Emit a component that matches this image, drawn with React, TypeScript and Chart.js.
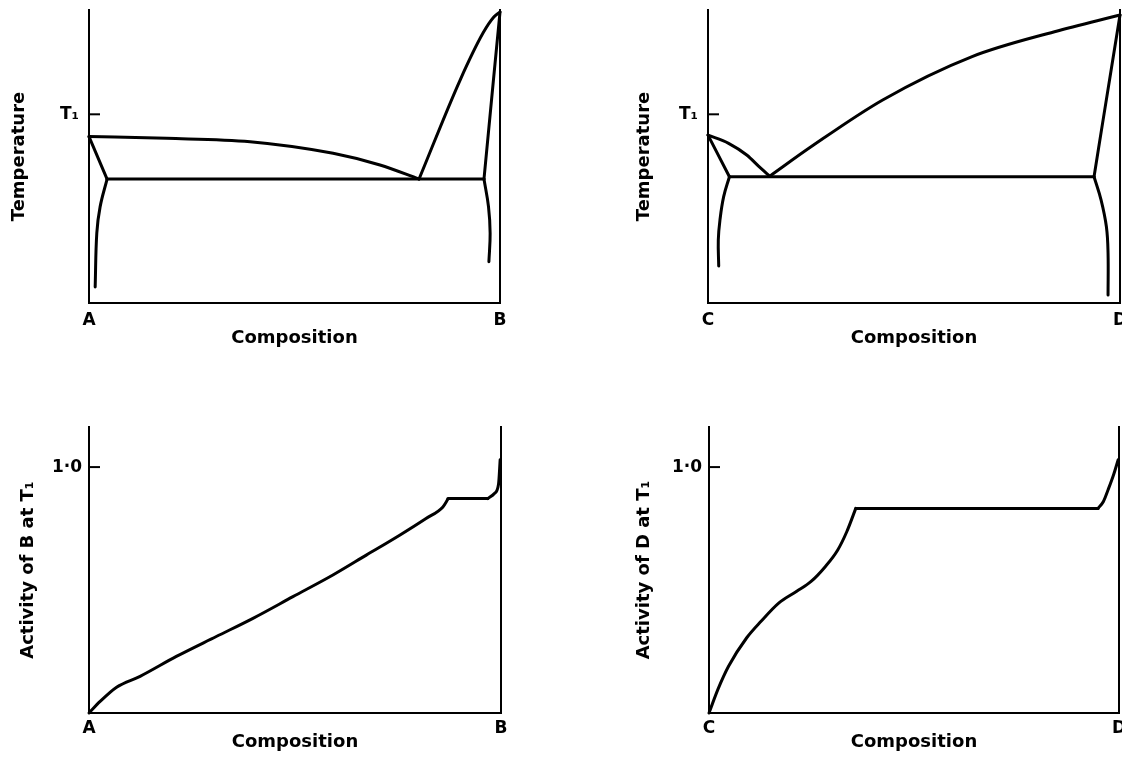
import React, { useEffect, useRef } from 'react';
import { Chart, registerables } from 'chart.js';

Chart.register(...registerables);

type Pair = [number, number];

// ---------- Top-left: A–B phase diagram (x = fraction B, y = temperature, arbitrary 0–100) ----------
const abTempT1 = 64.4;
const abLiquidusA: Pair[] = [[0, 56.8], [0.189, 56.2], [0.392, 55.05], [0.594, 51.1], [0.708, 47.1], [0.803, 42.3]];
const abLiquidusB: Pair[] = [[0.803, 42.3], [0.903, 76.1], [0.959, 92.2], [0.985, 97.6], [1.0, 99.3]];
const abSolidusA: Pair[] = [[0, 56.8], [0.044, 42.3]];
const abSolidusB: Pair[] = [[1.0, 99.3], [0.984, 76.1], [0.961, 42.3]];
const abEutectic: Pair[] = [[0.044, 42.3], [0.961, 42.3]];
const abSolvusA: Pair[] = [[0.044, 42.3], [0.027, 32.8], [0.019, 23.9], [0.015, 5.5]];
const abSolvusB: Pair[] = [[0.961, 42.3], [0.972, 32.9], [0.976, 23.8], [0.973, 14.1]];

// ---------- Top-right: C–D phase diagram ----------
const cdTempT1 = 64.4;
const cdLiquidusC: Pair[] = [[0, 57.3], [0.05, 54.5], [0.094, 50.5], [0.128, 46], [0.15, 43.3]];
const cdLiquidusD: Pair[] = [[0.15, 43.3], [0.25, 53.3], [0.424, 69.3], [0.641, 84.1], [0.841, 92.6], [1.0, 98.3]];
const cdSolidusC: Pair[] = [[0, 57.3], [0.052, 43.1]];
const cdSolidusD: Pair[] = [[1.0, 98.3], [0.959, 62.5], [0.937, 43.1]];
const cdEutectic: Pair[] = [[0.052, 43.1], [0.937, 43.1]];
const cdSolvusC: Pair[] = [[0.052, 43.1], [0.038, 36.3], [0.029, 28.3], [0.025, 21.5], [0.026, 12.6]];
const cdSolvusD: Pair[] = [[0.937, 43.1], [0.954, 35.2], [0.967, 26], [0.971, 17], [0.971, 2.7]];

// ---------- Bottom-left: activity of B at T1 ----------
const actB: Pair[] = [[0, 0], [0.027, 0.047], [0.067, 0.105], [0.124, 0.149], [0.212, 0.23], [0.309, 0.311], [0.398, 0.385], [0.495, 0.473], [0.592, 0.561], [0.673, 0.642], [0.754, 0.723], [0.818, 0.791], [0.859, 0.838], [0.871, 0.869]];
const actBFlat: Pair[] = [[0.871, 0.872], [0.968, 0.872]];
const actBRise: Pair[] = [[0.968, 0.872], [0.984, 0.893], [0.994, 0.93], [0.998, 1.03]];

// ---------- Bottom-right: activity of D at T1 ----------
const actD: Pair[] = [[0, 0], [0.022, 0.097], [0.048, 0.191], [0.092, 0.306], [0.127, 0.373], [0.17, 0.447], [0.214, 0.495], [0.249, 0.535], [0.284, 0.596], [0.314, 0.663], [0.336, 0.737], [0.358, 0.832]];
const actDFlat: Pair[] = [[0.358, 0.832], [0.949, 0.832]];
const actDRise: Pair[] = [[0.949, 0.832], [0.962, 0.86], [0.973, 0.906], [0.987, 0.97], [0.998, 1.03]];

// ---------- Axis labels ----------
const xTickValues = [0, 1];
const abXLabels = ['A', 'B'];
const cdXLabels = ['C', 'D'];
const tempTickLabels = ['T₁'];
const actTickValues = [1.0];
const actTickLabels = ['1·0'];
const xTitle = 'Composition';
const tempTitle = 'Temperature';
const actBTitle = 'Activity of B at T₁';
const actDTitle = 'Activity of D at T₁';

const FONT = "'DejaVu Sans', 'Liberation Sans', sans-serif";

type Series = { pts: Pair[]; mode: 'mono' | 'curve' | 'line' };

type PanelProps = {
  left: number; top: number; width: number; height: number;
  padding: { left: number; top: number; right: number; bottom: number };
  yWidth: number; xHeight: number;
  yMax: number; yTicks: number[]; yTickLabels: string[];
  xTickLabels: string[];
  yTitle: string; yTitlePad: number; xTitlePad: number;
  xTickPad: number; yTickPad: number;
  series: Series[];
};

function Panel(p: PanelProps) {
  const ref = useRef<HTMLCanvasElement | null>(null);
  useEffect(() => {
    if (!ref.current) return;
    const inwardTicks = {
      id: 'inwardTicks',
      afterDraw(chart: any) {
        const { ctx, chartArea } = chart;
        const s = chart.scales.y;
        ctx.save();
        ctx.strokeStyle = '#000';
        ctx.lineWidth = 2;
        s.ticks.forEach((t: any) => {
          const y = s.getPixelForValue(t.value);
          ctx.beginPath();
          ctx.moveTo(chartArea.left, y);
          ctx.lineTo(chartArea.left + 11, y);
          ctx.stroke();
        });
        ctx.restore();
      },
    };
    const tickFont = { family: FONT, size: 17, weight: 'bold' as const };
    const titleFont = { family: FONT, size: 18, weight: 'bold' as const };
    const chart = new Chart(ref.current, {
      type: 'scatter',
      data: {
        datasets: p.series.map((s) => ({
          data: s.pts.map(([x, y]) => ({ x, y })),
          showLine: true,
          borderColor: '#000',
          backgroundColor: '#000',
          borderWidth: 3,
          pointRadius: 0,
          pointHoverRadius: 0,
          tension: s.mode === 'curve' ? 0.4 : 0,
          cubicInterpolationMode: s.mode === 'mono' ? 'monotone' : 'default',
          borderCapStyle: 'round',
          borderJoinStyle: 'round',
          fill: false,
          clip: false,
        })) as any,
      },
      options: {
        animation: false,
        responsive: false,
        maintainAspectRatio: false,
        events: [],
        layout: { padding: p.padding },
        plugins: { legend: { display: false }, tooltip: { enabled: false } },
        scales: {
          x: {
            type: 'linear', min: 0, max: 1, position: 'bottom',
            grid: { display: false, drawTicks: false },
            border: { display: true, color: '#000', width: 2 },
            ticks: {
              autoSkip: false, maxRotation: 0, padding: p.xTickPad, color: '#000', font: tickFont,
              callback: (_v: any, i: number) => p.xTickLabels[i],
            },
            afterBuildTicks: (s: any) => { s.ticks = xTickValues.map((v) => ({ value: v })); },
            afterFit: (s: any) => { s.height = p.xHeight; s.paddingLeft = 0; s.paddingRight = 0; },
            title: { display: true, text: xTitle, color: '#000', font: titleFont, padding: { top: 0, bottom: p.xTitlePad } },
          },
          y: {
            type: 'linear', min: 0, max: p.yMax, position: 'left',
            grid: { display: false, drawTicks: false },
            border: { display: true, color: '#000', width: 2 },
            ticks: {
              padding: p.yTickPad, color: '#000', font: tickFont,
              callback: (_v: any, i: number) => p.yTickLabels[i],
            },
            afterBuildTicks: (s: any) => { s.ticks = p.yTicks.map((v) => ({ value: v })); },
            afterFit: (s: any) => { s.width = p.yWidth; s.paddingTop = 0; s.paddingBottom = 0; },
            title: { display: true, text: p.yTitle, color: '#000', font: titleFont, padding: { top: p.yTitlePad, bottom: 0 } },
          },
          y2: {
            type: 'linear', min: 0, max: p.yMax, position: 'right',
            grid: { display: false, drawTicks: false },
            border: { display: true, color: '#000', width: 2 },
            ticks: { display: false },
            afterFit: (s: any) => { s.width = 0; s.paddingTop = 0; s.paddingBottom = 0; },
          },
        },
      } as any,
      plugins: [inwardTicks],
    });
    return () => chart.destroy();
  }, []);
  return (
    <canvas
      ref={ref}
      width={p.width}
      height={p.height}
      style={{ position: 'absolute', left: p.left, top: p.top, width: p.width, height: p.height }}
    />
  );
}

export default function App() {
  const abSeries: Series[] = [
    { pts: abLiquidusA, mode: 'mono' },
    { pts: abLiquidusB, mode: 'mono' },
    { pts: abSolidusA, mode: 'line' },
    { pts: abSolidusB, mode: 'line' },
    { pts: abEutectic, mode: 'line' },
    { pts: abSolvusA, mode: 'curve' },
    { pts: abSolvusB, mode: 'curve' },
  ];
  const cdSeries: Series[] = [
    { pts: cdLiquidusC, mode: 'mono' },
    { pts: cdLiquidusD, mode: 'mono' },
    { pts: cdSolidusC, mode: 'line' },
    { pts: cdSolidusD, mode: 'curve' },
    { pts: cdEutectic, mode: 'line' },
    { pts: cdSolvusC, mode: 'curve' },
    { pts: cdSolvusD, mode: 'curve' },
  ];
  const actBSeries: Series[] = [
    { pts: actB, mode: 'mono' },
    { pts: actBFlat, mode: 'line' },
    { pts: actBRise, mode: 'mono' },
  ];
  const actDSeries: Series[] = [
    { pts: actD, mode: 'mono' },
    { pts: actDFlat, mode: 'line' },
    { pts: actDRise, mode: 'mono' },
  ];
  return (
    <div style={{ position: 'absolute', left: 0, top: 0, width: 1122, height: 758, background: '#fff', overflow: 'hidden' }}>
      <Panel
        left={0} top={0} width={540} height={360}
        padding={{ left: 0, top: 10, right: 40, bottom: 0 }}
        yWidth={89} xHeight={57} yMax={100}
        yTicks={[abTempT1]} yTickLabels={tempTickLabels} xTickLabels={abXLabels}
        yTitle={tempTitle} yTitlePad={9} xTitlePad={11} xTickPad={7} yTickPad={10}
        series={abSeries}
      />
      <Panel
        left={624} top={0} width={498} height={360}
        padding={{ left: 0, top: 10, right: 2, bottom: 0 }}
        yWidth={84} xHeight={57} yMax={100}
        yTicks={[cdTempT1]} yTickLabels={tempTickLabels} xTickLabels={cdXLabels}
        yTitle={tempTitle} yTitlePad={10} xTitlePad={11} xTickPad={7} yTickPad={10}
        series={cdSeries}
      />
      <Panel
        left={0} top={380} width={540} height={378}
        padding={{ left: 0, top: 47, right: 39, bottom: 0 }}
        yWidth={89} xHeight={45} yMax={1.163}
        yTicks={actTickValues} yTickLabels={actTickLabels} xTickLabels={abXLabels}
        yTitle={actBTitle} yTitlePad={18} xTitlePad={5} xTickPad={5} yTickPad={7}
        series={actBSeries}
      />
      <Panel
        left={624} top={380} width={498} height={378}
        padding={{ left: 0, top: 47, right: 3, bottom: 0 }}
        yWidth={85} xHeight={45} yMax={1.163}
        yTicks={actTickValues} yTickLabels={actTickLabels} xTickLabels={cdXLabels}
        yTitle={actDTitle} yTitlePad={10} xTitlePad={5} xTickPad={5} yTickPad={7}
        series={actDSeries}
      />
    </div>
  );
}
